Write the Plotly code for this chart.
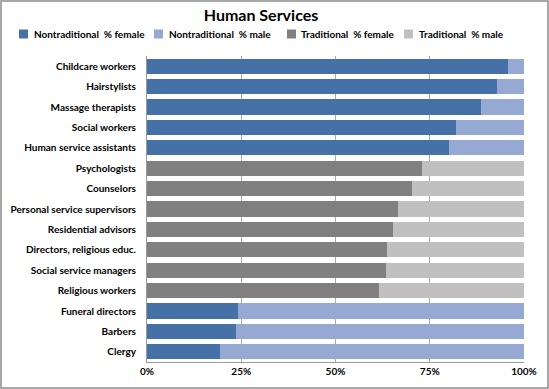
import plotly.graph_objects as go

categories = ["Childcare workers", "Hairstylists", "Massage therapists", "Social workers",
              "Human service assistants", "Psychologists", "Counselors",
              "Personal service supervisors", "Residential advisors",
              "Directors, religious educ.", "Social service managers", "Religious workers",
              "Funeral directors", "Barbers", "Clergy"]
nontrad_female = [95.7, 92.8, 88.7, 82.0, 80.0, None, None, None, None, None, None, None, 24.2, 23.6, 19.4]
nontrad_male   = [4.3, 7.2, 11.3, 18.0, 20.0, None, None, None, None, None, None, None, 75.8, 76.4, 80.6]
trad_female    = [None, None, None, None, None, 73.0, 70.4, 66.7, 65.3, 63.6, 63.4, 61.5, None, None, None]
trad_male      = [None, None, None, None, None, 27.0, 29.6, 33.3, 34.7, 36.4, 36.6, 38.5, None, None, None]
tick_vals = [0, 25, 50, 75, 100]
tick_text = ["0%", "25%", "50%", "75%", "100%"]
series_names = ["Nontraditional\u00a0 % female", "Nontraditional\u00a0 % male",
                "Traditional\u00a0 % female", "Traditional\u00a0 % male"]
series_colors = ["#4571A7", "#95A9D2", "#808080", "#C0C0C0"]
series_values = [nontrad_female, nontrad_male, trad_female, trad_male]

W, H = 549, 389
L, R, T, B = 147, 25, 56, 27
PW, PH = W - L - R, H - T - B

def px_x(px):
    return (px - L) / PW

def px_y(py):
    return (H - B - py) / PH

fig = go.Figure()
for name, vals, col in zip(series_names, series_values, series_colors):
    fig.add_trace(go.Bar(y=categories, x=vals, name=name, orientation="h", showlegend=False,
                         marker=dict(color=col, line=dict(width=0))))

F = "Lato"
shapes = [dict(type="rect", xref="paper", yref="paper",
               x0=px_x(1), x1=px_x(548), y0=px_y(388), y1=px_y(1),
               line=dict(color="#8C8C8C", width=1.5), fillcolor="rgba(0,0,0,0)", layer="below")]
annotations = []
sq_x = [19, 154, 287, 404]
txt_x = [32, 167, 299, 417]
for sx, tx, name, col in zip(sq_x, txt_x, series_names, series_colors):
    shapes.append(dict(type="rect", xref="paper", yref="paper",
                       x0=px_x(sx), x1=px_x(sx + 9), y0=px_y(38.5), y1=px_y(29.5),
                       line=dict(width=0), fillcolor=col))
    annotations.append(dict(text=f"<b>{name}</b>", xref="paper", yref="paper",
                            x=px_x(tx), y=px_y(34), xanchor="left", yanchor="middle",
                            showarrow=False, font=dict(family=F, size=10, color="black")))

fig.update_layout(
    barmode="stack", bargap=0.26,
    width=W, height=H,
    margin=dict(l=L, r=R, t=T, b=B, autoexpand=False),
    paper_bgcolor="white", plot_bgcolor="white",
    font=dict(family=F, size=10, color="black"),
    title=dict(text="<b>Human Services</b>", xref="container", x=261 / W, xanchor="center",
               y=(H - 15) / H, yanchor="middle",
               font=dict(family=F, size=16, color="black")),
    showlegend=False,
    xaxis=dict(range=[0, 100], tickvals=tick_vals, ticktext=[f"<b>{t}</b>" for t in tick_text],
               showgrid=True, gridcolor="#ACACAC", gridwidth=1, zeroline=False,
               showline=True, linecolor="#9A9A9A", ticks="", fixedrange=True),
    yaxis=dict(autorange="reversed", showline=True, linecolor="#9A9A9A", ticks="",
               tickvals=categories, ticktext=[f"<b>{c}</b>" for c in categories],
               ticklabelstandoff=8, fixedrange=True),
    shapes=shapes,
    annotations=annotations,
)
fig.write_html("out.html", config={"displayModeBar": False},
               post_script="document.body.style.margin='0';")
